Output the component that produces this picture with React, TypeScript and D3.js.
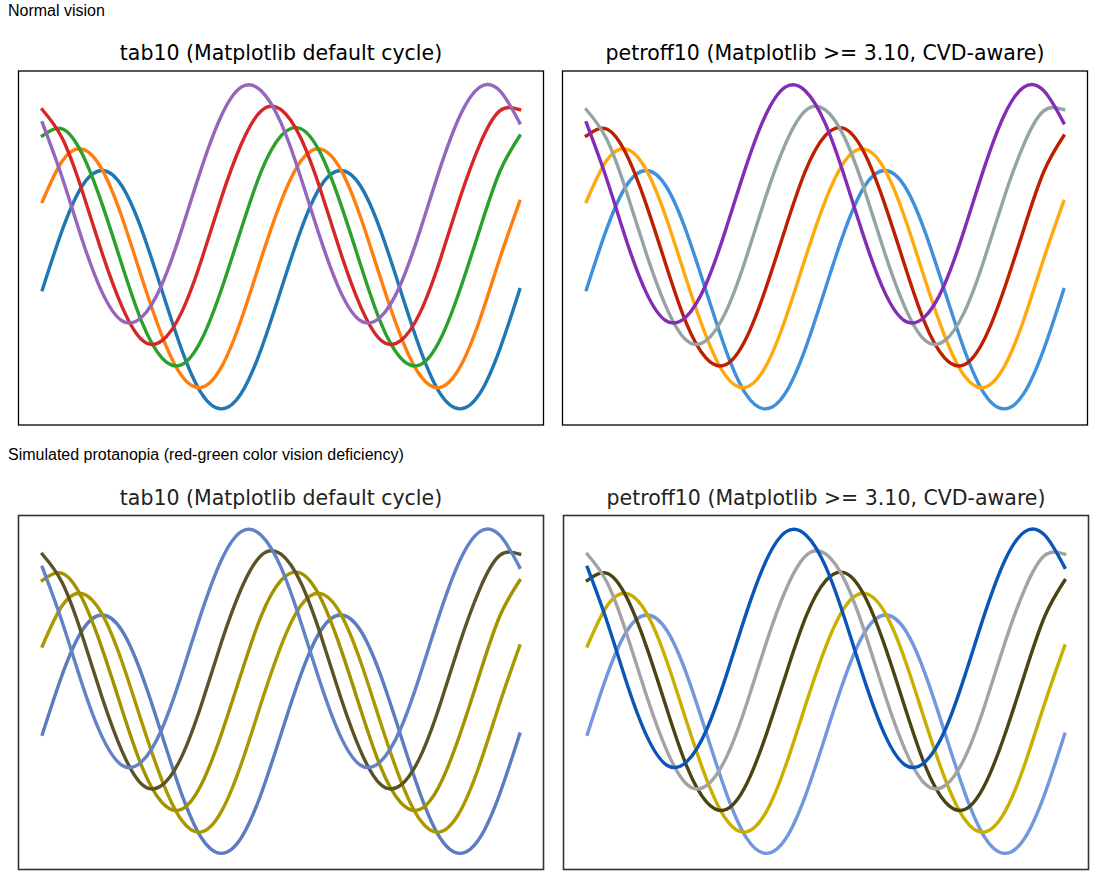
import * as React from 'react';
import { scaleLinear, line, curveNatural, extent } from 'd3';

// five phase-shifted waves, sampled every pi/6 over two periods (25 samples)
const wave0 = [0, 0.5, 0.87, 1, 0.87, 0.5, 0, -0.5, -0.87, -1, -0.87, -0.5,
  0, 0.5, 0.87, 1, 0.87, 0.5, 0, -0.5, -0.87, -1, -0.87, -0.5, 0];
const wave1 = [0.74, 1.08, 1.18, 1.01, 0.61, 0.1, -0.38, -0.72, -0.82, -0.65, -0.25, 0.26,
  0.74, 1.08, 1.18, 1.01, 0.61, 0.1, -0.38, -0.72, -0.82, -0.65, -0.25, 0.26, 0.74];
const wave2 = [1.29, 1.35, 1.14, 0.72, 0.21, -0.27, -0.57, -0.63, -0.42, 0, 0.51, 0.99,
  1.29, 1.35, 1.14, 0.72, 0.21, -0.27, -0.57, -0.63, -0.42, 0, 0.51, 0.99, 1.29];
const wave3 = [1.51, 1.27, 0.83, 0.31, -0.14, -0.42, -0.43, -0.19, 0.25, 0.77, 1.22, 1.5,
  1.51, 1.27, 0.83, 0.31, -0.14, -0.42, -0.43, -0.19, 0.25, 0.77, 1.22, 1.5, 1.51];
const wave4 = [1.4, 0.94, 0.42, -0.02, -0.26, -0.23, 0.04, 0.5, 1.02, 1.46, 1.7, 1.67,
  1.4, 0.94, 0.42, -0.02, -0.26, -0.23, 0.04, 0.5, 1.02, 1.46, 1.7, 1.67, 1.4];
const waves = [wave0, wave1, wave2, wave3, wave4];

const tab10 = ['#1f77b4', '#ff7f0e', '#2ca02c', '#d62728', '#9467bd'];
const petroff10 = ['#3f90da', '#ffa90e', '#bd1f01', '#94a4a2', '#832db6'];
// protanopia-simulated versions (as seen in the lower half)
const tab10Prot = ['#5b7dc0', '#ab9700', '#a39200', '#5c5228', '#6282c6'];
const petroffProt = ['#7198dc', '#c8af00', '#4b4312', '#a3a3a3', '#0a56b8'];

const titleTab = 'tab10 (Matplotlib default cycle)';
const titlePetroff = 'petroff10 (Matplotlib >= 3.10, CVD-aware)';

interface IPanel {
  x0: number;
  y0: number;
  w: number;
  h: number;
  title: string;
  colors: string[];
  frame: string;
  frameW: number;
  titleColor: string;
}

const allVals = waves.flat();
const [yMin, yMax] = extent(allVals) as [number, number];
const yPad = (yMax - yMin) * 0.05;

const Panel = (p: IPanel): JSX.Element => {
  const n = wave0.length - 1;
  const xScale = scaleLinear().domain([-n * 0.05, n * 1.05]).range([p.x0, p.x0 + p.w]);
  const yScale = scaleLinear().domain([yMin - yPad, yMax + yPad]).range([p.y0 + p.h, p.y0]);
  const gen = line<number>()
    .x((d, i) => xScale(i))
    .y(d => yScale(d))
    .curve(curveNatural);

  return (
    <g>
      <text x={p.x0 + p.w / 2} y={p.y0 - 11} textAnchor="middle"
        fontFamily="DejaVu Sans" fontSize={20.5} fill={p.titleColor}>
        {p.title}
      </text>
      {waves.map((w, i) => (
        <path key={i} d={gen(w) || ''} fill="none" stroke={p.colors[i]}
          strokeWidth={3.4} strokeLinecap="square" />
      ))}
      <rect x={p.x0} y={p.y0} width={p.w} height={p.h} fill="none"
        stroke={p.frame} strokeWidth={p.frameW} />
    </g>
  );
};

export default function App(): JSX.Element {
  return (
    <svg width={1107} height={888} style={{ position: 'absolute', left: 0, top: 0, background: '#fff' }}>
      <text x={8} y={16} fontFamily="Liberation Sans" fontSize={16} fill="#000">Normal vision</text>
      <Panel x0={18.5} y0={71} w={525} h={354} title={titleTab} colors={tab10}
        frame="#000" frameW={1.3} titleColor="#000" />
      <Panel x0={562.5} y0={71} w={525} h={354} title={titlePetroff} colors={petroff10}
        frame="#000" frameW={1.3} titleColor="#000" />
      <text x={8} y={460} fontFamily="Liberation Sans" fontSize={16} fill="#000">
        Simulated protanopia (red-green color vision deficiency)
      </text>
      <Panel x0={18.5} y0={515.5} w={525} h={354} title={titleTab} colors={tab10Prot}
        frame="#333" frameW={1.6} titleColor="#222" />
      <Panel x0={563.5} y0={515.5} w={525} h={354} title={titlePetroff} colors={petroffProt}
        frame="#333" frameW={1.6} titleColor="#222" />
    </svg>
  );
}
